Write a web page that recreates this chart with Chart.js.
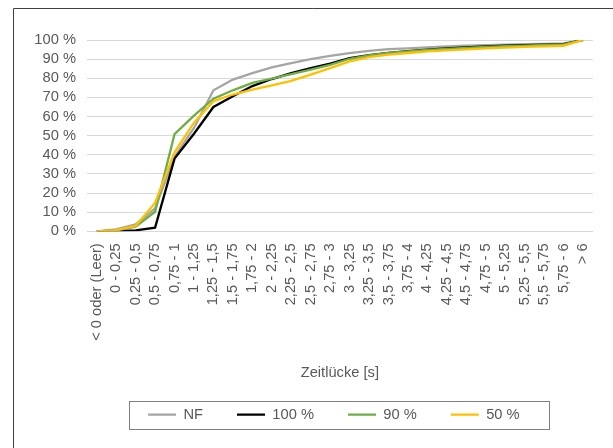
<!DOCTYPE html>
<html>
<head>
<meta charset="utf-8">
<script src="https://cdn.jsdelivr.net/npm/chart.js@4"></script>
<style>
  html, body { margin: 0; padding: 0; background: #fff; }
  #wrap { width: 613px; height: 448px; }
</style>
</head>
<body>
<div id="wrap"><canvas id="myChart"></canvas></div>
<script>
const categories = ['< 0 oder (Leer)', '0 - 0,25', '0,25 - 0,5', '0,5 - 0,75', '0,75 - 1', '1 - 1,25',
  '1,25 - 1,5', '1,5 - 1,75', '1,75 - 2', '2 - 2,25', '2,25 - 2,5', '2,5 - 2,75', '2,75 - 3',
  '3 - 3,25', '3,25 - 3,5', '3,5 - 3,75', '3,75 - 4', '4 - 4,25', '4,25 - 4,5', '4,5 - 4,75',
  '4,75 - 5', '5 - 5,25', '5,25 - 5,5', '5,5 - 5,75', '5,75 - 6', '> 6'];

// cumulative share in %
const nf   = [0, 1.0, 3.6, 12, 39, 54, 73.7, 79.3, 82.7, 85.7, 87.9, 90.0, 91.7, 93.1, 94.3, 95.2, 95.6, 96.1, 96.6, 97.0, 97.3, 97.6, 97.8, 98.0, 98.2, 100];
const p100 = [0, 0.3, 0.5, 1.9, 38, 51, 65, 70.6, 75.9, 79.6, 82.7, 85.3, 87.6, 90.5, 92.1, 93.3, 94.2, 95.0, 95.6, 96.1, 96.6, 97.0, 97.3, 97.6, 97.8, 100];
const p90  = [0, 0.5, 2.4, 10.2, 50.8, 60.5, 69.3, 73.7, 77.6, 79.8, 82.2, 84.5, 87.0, 90.2, 91.9, 93.2, 94.0, 94.8, 95.4, 95.9, 96.4, 96.8, 97.1, 97.4, 97.7, 100];
const p50  = [0, 0.6, 2.8, 14.8, 41.3, 56.8, 68, 71.5, 74.1, 76.3, 78.6, 81.9, 85.3, 88.8, 91.0, 92.4, 93.2, 94.0, 94.6, 95.1, 95.6, 96.0, 96.4, 96.7, 97.0, 100];

const seriesNames = ['NF', '100 %', '90 %', '50 %'];
const seriesColors = ['#a5a5a5', '#000000', '#70ad47', '#ffc000'];

const textColor = '#595959';
const font = { family: "'Liberation Sans', Arial, sans-serif", size: 14.7 };

// frame lines (left + top) and the box round the legend
const framePlugin = {
  id: 'frame',
  afterLayout(chart) {
    // legend sits a bit left of the plot centre
    chart.legend.left -= 12;
  },
  afterDraw(chart) {
    const c = chart.ctx;
    c.save();
    c.strokeStyle = '#404040';
    c.lineWidth = 1;
    c.beginPath();
    c.moveTo(13.5, 448);
    c.lineTo(13.5, 8.5);
    c.lineTo(613, 8.5);
    c.stroke();

    const boxes = chart.legend.legendHitBoxes;
    if (boxes && boxes.length) {
      const first = boxes[0], last = boxes[boxes.length - 1];
      const left = first.left - 19, right = last.left + last.width + 29;
      const mid = first.top + first.height / 2;
      c.strokeStyle = '#808080';
      c.strokeRect(Math.round(left) + 0.5, Math.round(mid - 14) + 0.5, Math.round(right - left), 28);
    }
    c.restore();
  }
};

const datasets = seriesNames.map((name, i) => ({
  label: name,
  data: [nf, p100, p90, p50][i],
  borderColor: seriesColors[i],
  backgroundColor: seriesColors[i],
  borderWidth: 2.3,
  pointRadius: 0,
  tension: 0,
  order: 4 - i
}));

new Chart(document.getElementById('myChart'), {
  type: 'line',
  data: { labels: categories, datasets: datasets },
  plugins: [framePlugin],
  options: {
    responsive: true,
    maintainAspectRatio: false,
    animation: false,
    layout: { padding: { left: 0, right: 19, top: 40, bottom: 16 } },
    plugins: {
      tooltip: { enabled: false },
      legend: {
        position: 'bottom',
        fullSize: false,
        labels: {
          boxWidth: 28,
          boxHeight: 0,
          padding: 34,
          color: textColor,
          font: font,
          sort: (a, b) => a.datasetIndex - b.datasetIndex
        }
      }
    },
    scales: {
      x: {
        offset: true,
        grid: { display: false, drawTicks: false },
        border: { display: true, color: '#d9d9d9', width: 1 },
        ticks: { color: textColor, font: font, minRotation: 90, maxRotation: 90, autoSkip: false, padding: 12 },
        title: { display: true, text: 'Zeitlücke [s]', color: textColor, font: font, padding: { top: 0, bottom: -8 } },
        afterFit: (scale) => { scale.height = 142; }
      },
      y: {
        min: 0,
        max: 100,
        grid: { color: '#d9d9d9', lineWidth: 1, drawTicks: false },
        border: { display: false },
        ticks: { stepSize: 10, autoSkip: false, color: textColor, font: font, padding: 11, callback: (v) => v + ' %' },
        afterFit: (scale) => { scale.width = 87; }
      }
    }
  }
});
</script>
</body>
</html>
